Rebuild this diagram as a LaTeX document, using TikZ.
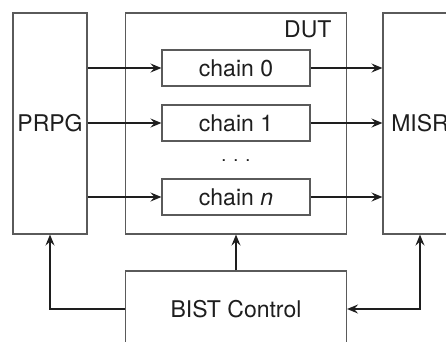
\documentclass[tikz,border=0pt]{standalone}
\usepackage{fontspec}
\setmainfont{TeX Gyre Heros}
\usetikzlibrary{arrows.meta,calc}
\definecolor{ink}{HTML}{1E1E1E}
\definecolor{frame}{HTML}{5A5A5A}
\tikzset{
  x=1pt, y=1pt,
  block/.style={draw=frame, line width=1.1pt, fill=white, inner sep=0pt,
    text=ink, font=\fontsize{23}{27}\selectfont},
  link/.style={draw=ink, line width=2pt, -{Stealth[length=11pt, width=9pt, inset=4pt]}},
  dlink/.style={draw=ink, line width=2pt,
    {Stealth[length=11pt, width=9pt, inset=4pt]}-{Stealth[length=11pt, width=9pt, inset=4pt]}},
}
\begin{document}
\begin{tikzpicture}
\useasboundingbox (0,0) rectangle (446,-341);

% outer blocks
\node[block, minimum width=74pt, minimum height=221pt] (prpg) at (50,-123.5) {PRPG};
\node[block, minimum width=221pt, minimum height=221pt] (dut) at (236,-123.5) {};
\node[block, minimum width=74pt, minimum height=221pt] (misr) at (420,-123.5) {MISR};
\node[text=ink, font=\fontsize{23}{27}\selectfont, anchor=base east] (dutlabel) at (335,-37) {DUT};

% scan chains inside the DUT
\node[block, minimum width=148pt, minimum height=36pt] (c0) at (236,-68) {chain 0};
\node[block, minimum width=148pt, minimum height=36pt] (c1) at (236,-123) {chain 1};
\node[block, minimum width=148pt, minimum height=36pt] (cn) at (236,-197) {chain \textit{n}};
\node[text=ink, font=\fontsize{18}{20}\selectfont, anchor=base, inner sep=0pt] (dots) at (236,-161.5) {.\hspace{7pt}.\hspace{7pt}.};

% controller
\node[block, minimum width=221pt, minimum height=76pt] (bist) at (236,-309) {BIST Control};

% PRPG -> chains -> MISR
\foreach \c in {c0,c1,cn}{
  \draw[link] (\c.west -| prpg.east) -- (\c.west);
  \draw[link] (\c.east) -- (\c.east -| misr.west);
}

% control connections
\draw[link] (bist.north) -- (dut.south);
\draw[link] (bist.west) -| (prpg.south);
\draw[dlink] (misr.south) |- (bist.east);
\end{tikzpicture}
\end{document}
